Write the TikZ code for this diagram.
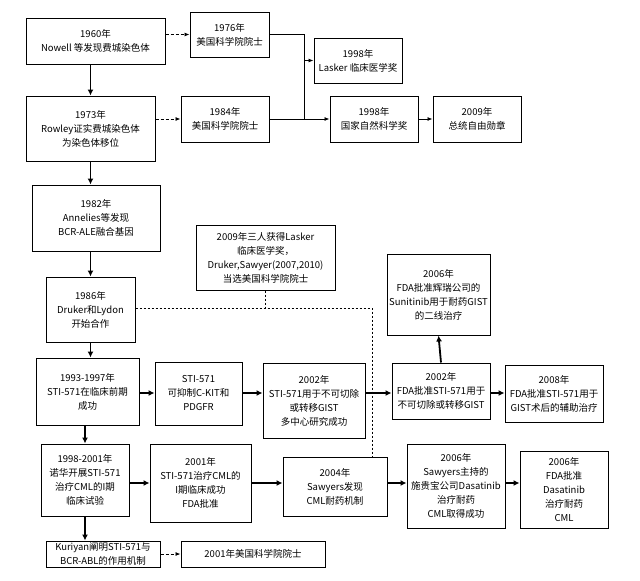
\documentclass[tikz,border=0pt]{standalone}
\usepackage{fontspec}
\setmainfont{Liberation Sans}
\newfontfamily\cjk{Noto Sans CJK SC}
\usetikzlibrary{arrows.meta}
\newcommand{\mybox}[6]{\node[box,minimum width={(#4-#2)*1pt},minimum height={(#5-#3)*1pt}] (#1) at ({(#2+#4)/2},{(#3+#5)/2}) {#6};}
\begin{document}
\begin{tikzpicture}[x=1pt,y=-1pt,
 box/.style={draw,line width=1pt,inner sep=1pt,align=center,font=\cjk\fontsize{9.5}{14}\selectfont},
 arr/.style={line width=0.8pt,-{Latex[length=5pt,width=4pt]}},
 tarr/.style={line width=1.8pt,-{Latex[length=6pt,width=6pt]}},
 darr/.style={line width=0.8pt,dash pattern=on 3pt off 2pt,-{Latex[length=5pt,width=4pt]}},
 dl/.style={line width=1pt,dash pattern=on 2pt off 2pt}]
\useasboundingbox[fill=white] (0,0) rectangle (640,581);
\mybox{a1960}{26}{18}{165}{64}{1960年\\Nowell 等发现费城染色体}
\mybox{a1976}{190}{12}{269}{57}{1976年\\美国科学院院士}
\mybox{aL98}{314}{38}{402}{83}{1998年\\Lasker 临床医学奖}
\mybox{a1973}{26}{96}{155}{161}{1973年\\Rowley证实费城染色体\\为染色体移位}
\mybox{a1984}{181}{96}{269}{142}{1984年\\美国科学院院士}
\mybox{aN98}{330}{96}{418}{142}{1998年\\国家自然科学奖}
\mybox{a2009}{433}{96}{521}{142}{2009年\\总统自由勋章}
\mybox{a1982}{32}{185}{160}{251}{1982年\\Annelies等发现\\BCR-ALE融合基因}
\mybox{a1986}{46}{277}{135}{342}{1986年\\Druker和Lydon\\开始合作}
\mybox{aL09}{196}{225}{335}{290}{2009年三人获得Lasker\\临床医学奖，\\Druker,Sawyer(2007,2010)\\当选美国科学院院士}
\mybox{aS06}{387}{254}{490}{335}{2006年\\FDA批准辉瑞公司的\\Sunitinib用于耐药GIST\\的二线治疗}
\mybox{a1993}{36}{358}{139}{425}{1993-1997年\\STI-571在临床前期\\成功}
\mybox{aSTI}{155}{362}{242}{425}{STI-571\\可抑制C-KIT和\\PDGFR}
\mybox{a02a}{263}{363}{365}{438}{2002年\\STI-571用于不可切除\\或转移GIST\\多中心研究成功}
\mybox{a02b}{392}{363}{490}{419}{2002年\\FDA批准STI-571用于\\不可切除或转移GIST}
\mybox{a2008}{505}{365}{603}{422}{2008年\\FDA批准STI-571用于\\GIST术后的辅助治疗}
\mybox{a1998}{41}{444}{129}{516}{1998-2001年\\诺华开展STI-571\\治疗CML的I期\\临床试验}
\mybox{a2001}{150}{444}{251}{522}{2001年\\STI-571治疗CML的\\I期临床成功\\FDA批准}
\mybox{a2004}{283}{457}{387}{516}{2004年\\Sawyers发现\\CML耐药机制}
\mybox{aSaw}{407}{444}{505}{528}{2006年\\Sawyers主持的\\施贵宝公司Dasatinib\\治疗耐药\\CML取得成功}
\mybox{aF06}{520}{451}{608}{528}{2006年\\FDA批准\\Dasatinib\\治疗耐药\\CML}
\mybox{aKur}{46}{541}{160}{567}{Kuriyan阐明STI-571与\\BCR-ABL的作用机制}
\mybox{aAc}{181}{541}{325}{567}{2001年美国科学院院士}
\coordinate (j1) at (304,34.5);
\coordinate (j2) at (304,119);
\coordinate (r1) at (0,393);
\coordinate (r2) at (0,483);
\coordinate (d1) at (372,308);
\coordinate (d2) at (372,457);
% top cluster
\draw[darr] (a1960.east|-a1976) -- (a1976.west);
\draw[darr] (a1973.east|-a1984) -- (a1984.west);
\draw[line width=0.8pt] (a1976.east) -- (j1) -- (j2);
\draw[arr] (j1|-aL98) -- (aL98.west);
\draw[arr] (a1984.east) -- (aN98.west);
\draw[arr] (aN98.east) -- (a2009.west);
% main column
\draw[tarr] (a1960.south-|a1973) -- (a1973.north);
\draw[tarr] (a1973.south) -- (a1973.south|-a1982.north);
\draw[tarr] (a1986.north|-a1982.south) -- (a1986.north);
\draw[tarr] (a1986.south) -- (a1986.south|-a1993.north);
\draw[tarr] (a1993.south-|a1998) -- (a1998.north);
\draw[tarr] (a1998.south) -- (a1998.south|-aKur.north);
\draw[darr] (aKur.east) -- (aAc.west);
% row 1
\draw[tarr] (a1993.east|-r1) -- (aSTI.west|-r1);
\draw[tarr] (aSTI.east|-r1) -- (a02a.west|-r1);
\draw[tarr] (a02a.east|-r1) -- (a02b.west|-r1);
\draw[tarr] (a02b.east|-r1) -- (a2008.west|-r1);
\draw[tarr] (a02b.north) -- (aS06.south);
% row 2
\draw[tarr] (a1998.east|-r2) -- (a2001.west|-r2);
\draw[tarr] (a2001.east|-r2) -- (a2004.west|-r2);
\draw[tarr] (a2004.east|-r2) -- (aSaw.west|-r2);
\draw[tarr] (aSaw.east|-r2) -- (aF06.west|-r2);
% dashed links
\draw[dl] (a1986.east|-d1) -- (d1) -- (d2);
\draw[dl] (aL09.south) -- (aL09.south|-d1);
\end{tikzpicture}
\end{document}
